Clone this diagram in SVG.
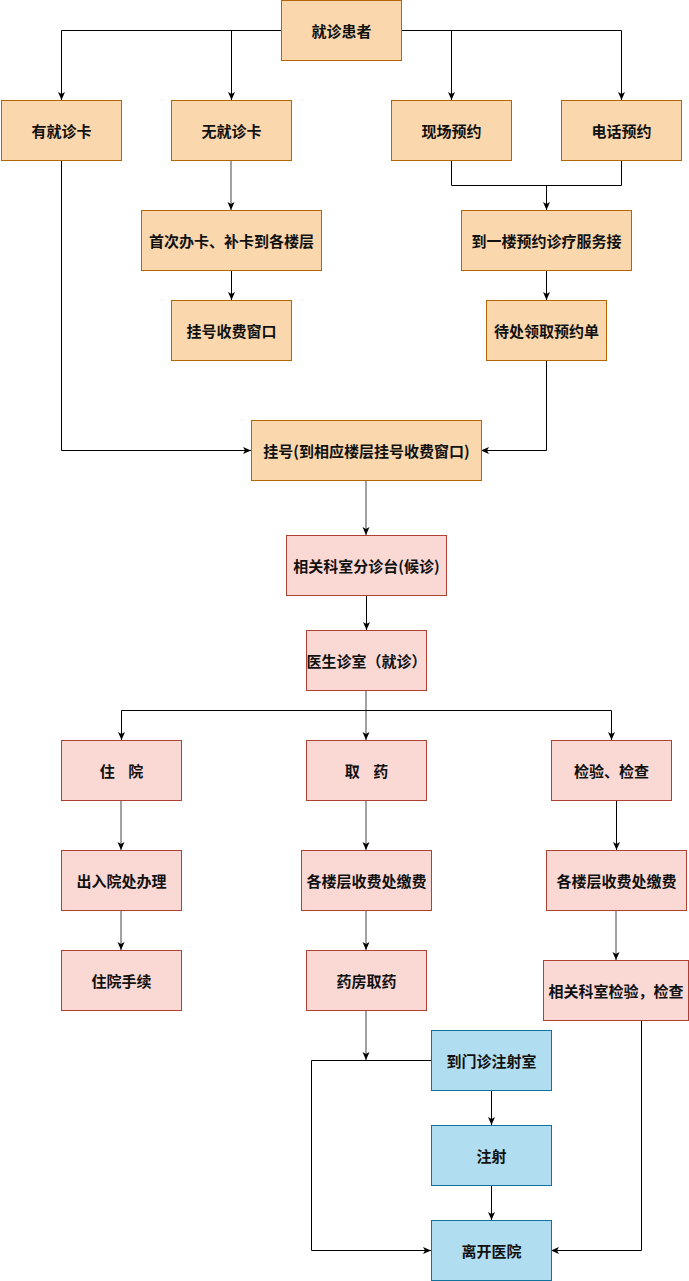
<svg xmlns="http://www.w3.org/2000/svg" width="689" height="1281" viewBox="0 0 689 1281">
<style>
.o{fill:#fad7ac;stroke:#b46504;stroke-width:1}
.p{fill:#fad9d5;stroke:#ae4132;stroke-width:1}
.b{fill:#b1ddf0;stroke:#10739e;stroke-width:1}
text{font-family:"Noto Sans CJK SC","Noto Sans CJK JP",sans-serif;font-size:15px;font-weight:bold;fill:#111;text-anchor:middle;dominant-baseline:central}
.c path{fill:none;stroke:#000;stroke-width:1}
.c path.g{stroke:#444}
</style>
<defs>
<marker id="a" viewBox="0 0 8 8" refX="8" refY="4" markerWidth="8" markerHeight="8" markerUnits="userSpaceOnUse" orient="auto">
<path d="M0,0.5 L8,4 L0,7.5 L2,4 z" fill="#000" stroke="none"/>
</marker>
</defs>
<rect width="689" height="1281" fill="#fff"/>
<g class="c" id="connectors">
<path d="M281,30.5 H61.5 V100" marker-end="url(#a)"/>
<path d="M231.5,30.5 V100" marker-end="url(#a)"/>
<path d="M401,30.5 H621.5 V100" marker-end="url(#a)"/>
<path d="M451.5,30.5 V100" marker-end="url(#a)"/>
<path d="M451.5,160 V185.5 H621.5 V160"/>
<path d="M546.5,185.5 V210" marker-end="url(#a)"/>
<path class="g" d="M231,160 V210" marker-end="url(#a)"/>
<path d="M231.5,270 V300" marker-end="url(#a)"/>
<path d="M546.5,270 V300" marker-end="url(#a)"/>
<path d="M61.5,160 V450.5 H251" marker-end="url(#a)"/>
<path d="M546.5,360 V450.5 H481" marker-end="url(#a)"/>
<path class="g" d="M366,480 V535" marker-end="url(#a)"/>
<path d="M366.5,595 V630" marker-end="url(#a)"/>
<path class="g" d="M366,690 V740" marker-end="url(#a)"/>
<path d="M366,710.5 H121.5 V740" marker-end="url(#a)"/>
<path d="M366,710.5 H611.5 V740" marker-end="url(#a)"/>
<path class="g" d="M121,800 V850" marker-end="url(#a)"/>
<path class="g" d="M121,910 V950" marker-end="url(#a)"/>
<path class="g" d="M366,800 V850" marker-end="url(#a)"/>
<path class="g" d="M366,910 V950" marker-end="url(#a)"/>
<path class="g" d="M366,1010 V1060" marker-end="url(#a)"/>
<path d="M616.5,800 V850" marker-end="url(#a)"/>
<path class="g" d="M616,910 V960" marker-end="url(#a)"/>
<path d="M431,1060.5 H311.5 V1250.5 H431" marker-end="url(#a)"/>
<path d="M491.5,1090 V1125" marker-end="url(#a)"/>
<path d="M491.5,1185 V1220" marker-end="url(#a)"/>
<path d="M641.5,1020 V1250.5 H551" marker-end="url(#a)"/>
</g>
<g id="n1"><rect class="o" x="281.5" y="0.5" width="120" height="60"/><text x="341.5" y="30.5">就诊患者</text></g>
<g id="n2"><rect class="o" x="1.5" y="100.5" width="120" height="60"/><text x="61.5" y="130.5">有就诊卡</text></g>
<g id="n3"><rect class="o" x="171.5" y="100.5" width="120" height="60"/><text x="231.5" y="130.5">无就诊卡</text></g>
<g id="n4"><rect class="o" x="391.5" y="100.5" width="120" height="60"/><text x="451.5" y="130.5">现场预约</text></g>
<g id="n5"><rect class="o" x="561.5" y="100.5" width="120" height="60"/><text x="621.5" y="130.5">电话预约</text></g>
<g id="n6"><rect class="o" x="141.5" y="210.5" width="180" height="60"/><text x="231.5" y="240.5">首次办卡、补卡到各楼层</text></g>
<g id="n7"><rect class="o" x="461.5" y="210.5" width="170" height="60"/><text x="546.5" y="240.5">到一楼预约诊疗服务接</text></g>
<g id="n8"><rect class="o" x="171.5" y="300.5" width="120" height="60"/><text x="231.5" y="330.5">挂号收费窗口</text></g>
<g id="n9"><rect class="o" x="486.5" y="300.5" width="120" height="60"/><text x="546.5" y="330.5">待处领取预约单</text></g>
<g id="n10"><rect class="o" x="251.5" y="420.5" width="230" height="60"/><text x="366.5" y="450.5">挂号(到相应楼层挂号收费窗口)</text></g>
<g id="n11"><rect class="p" x="286.5" y="535.5" width="160" height="60"/><text x="366.5" y="565.5">相关科室分诊台(候诊)</text></g>
<g id="n12"><rect class="p" x="306.5" y="630.5" width="120" height="60"/><text x="366.5" y="660.5">医生诊室（就诊）</text></g>
<g id="n13"><rect class="p" x="61.5" y="740.5" width="120" height="60"/><text x="121.5" y="770.5" word-spacing="10">住 院</text></g>
<g id="n14"><rect class="p" x="306.5" y="740.5" width="120" height="60"/><text x="366.5" y="770.5" word-spacing="10">取 药</text></g>
<g id="n15"><rect class="p" x="551.5" y="740.5" width="120" height="60"/><text x="611.5" y="770.5">检验、检查</text></g>
<g id="n16"><rect class="p" x="61.5" y="850.5" width="120" height="60"/><text x="121.5" y="880.5">出入院处办理</text></g>
<g id="n17"><rect class="p" x="301.5" y="850.5" width="130" height="60"/><text x="366.5" y="880.5">各楼层收费处缴费</text></g>
<g id="n18"><rect class="p" x="546.5" y="850.5" width="140" height="60"/><text x="616.5" y="880.5">各楼层收费处缴费</text></g>
<g id="n19"><rect class="p" x="61.5" y="950.5" width="120" height="60"/><text x="121.5" y="980.5">住院手续</text></g>
<g id="n20"><rect class="p" x="306.5" y="950.5" width="120" height="60"/><text x="366.5" y="980.5">药房取药</text></g>
<g id="n21"><rect class="p" x="543.5" y="960.5" width="145" height="60"/><text x="616" y="990.5">相关科室检验，检查</text></g>
<g id="n22"><rect class="b" x="431.5" y="1030.5" width="120" height="60"/><text x="491.5" y="1060.5">到门诊注射室</text></g>
<g id="n23"><rect class="b" x="431.5" y="1125.5" width="120" height="60"/><text x="491.5" y="1155.5">注射</text></g>
<g id="n24"><rect class="b" x="431.5" y="1220.5" width="120" height="60"/><text x="491.5" y="1250.5">离开医院</text></g>
</svg>
